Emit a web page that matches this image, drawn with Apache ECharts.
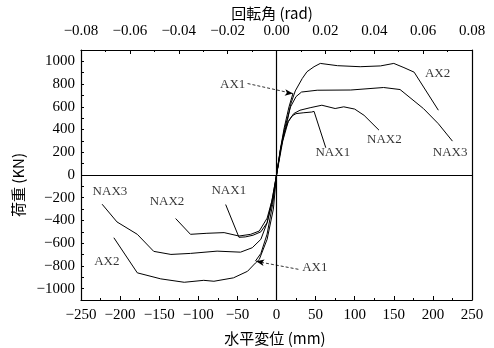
<!DOCTYPE html>
<html><head><meta charset="utf-8">
<script src="https://cdn.jsdelivr.net/npm/echarts@6/dist/echarts.min.js"></script>
<style>html,body{margin:0;padding:0;background:#fff}#c{width:494px;height:348px}</style>
</head><body><div id="c"></div>
<script>
// displacement (mm), load (kN)
const AX1 = [[-27,-758],[-20,-690],[-12,-520],[-5,-260],[0,0],[5,230],[10,420],[16,600],[21,717]];
const AX2 = [[-208,-552],[-178,-861],[-148,-914],[-118,-944],[-93,-927],[-80,-935],[-55,-905],[-37,-847],[-27,-775],[-22,-743],[-12,-566],[-4,-300],[0,0],
             [6,250],[14,480],[18,620],[24,740],[33,850],[39,909],[48,953],[56,982],[78,962],[107,953],[133,960],[150,982],[163,945],[176,905],[207,570]];
const NAX1 = [[-65,-260],[-48,-548],[-40,-545],[-30,-530],[-20,-500],[-12,-420],[-5,-230],[0,0],
              [5,220],[10,380],[15,470],[20,520],[25,540],[35,548],[45,554],[48,560],[63,240]];
const NAX2 = [[-129,-383],[-110,-522],[-89,-513],[-67,-507],[-48,-537],[-33,-522],[-22,-493],[-12,-380],[-6,-230],[0,0],
              [8,300],[15,470],[22,540],[30,570],[43,592],[58,614],[75,585],[86,600],[100,580],[112,525],[131,395]];
const NAX3 = [[-223,-257],[-204,-413],[-178,-522],[-157,-672],[-135,-699],[-110,-690],[-76,-670],[-46,-679],[-31,-640],[-20,-566],[-12,-420],[-5,-200],[0,0],
              [5,220],[10,400],[18,600],[25,690],[32,730],[52,746],[95,748],[137,770],[158,752],[188,584],[207,451],[225,298]];
// leader lines for AX1 (start point, arrow point)
const leaderTop = [[-37,805],[21,717]];
const leaderBottom = [[28,-830],[-26,-760]];
// curve labels
const labelTexts = ['AX1','AX2','NAX1','NAX2','NAX3','NAX3','NAX2','NAX1','AX2','AX1'];
const labelX = [-56, 206, 72, 138, 222, -213, -140, -61, -217, 49];
const labelY = [796, 894, 195, 310, 195, -146, -235, -139, -765, -814];
// axis ticks
const xTicks = {min:-250, max:250, step:50};
const topTicks = {min:-0.08, max:0.08, step:0.02};
const yTicks = {min:-1100, max:1100, step:100, labelStep:200};

const minus = s => String(s).replace('-', '\u2212');
const tickFont = {fontFamily:'Liberation Serif', fontSize:15, color:'#000'};
const lineSeries = (name, data) => ({
  name, type:'line', data, symbol:'none', smooth:false, animation:false,
  lineStyle:{color:'#000', width:1}, z:3
});
const leader = (data, rot) => ({
  type:'line', symbol:'none', animation:false,
  data:[data[0], {value:data[1], symbol:'arrow', symbolSize:[5,8], symbolRotate:rot}],
  lineStyle:{color:'#000', width:0.8, type:[3,2]}, itemStyle:{color:'#000'}, z:4
});

const chart = echarts.init(document.getElementById('c'));
chart.setOption({
  animation:false,
  grid:{left:81, right:22, top:50, bottom:48, show:false},
  xAxis:[
    {type:'value', position:'bottom', min:xTicks.min, max:xTicks.max, interval:xTicks.step,
     axisLine:{onZero:false, lineStyle:{color:'#000', width:1.2}},
     axisTick:{inside:true, length:4, lineStyle:{color:'#000'}},
     minorTick:{show:true, splitNumber:2, length:2, lineStyle:{color:'#000'}},
     splitLine:{show:false},
     axisLabel:Object.assign({margin:8, formatter:v=>minus(v)}, tickFont)},
    {type:'value', position:'top', min:topTicks.min, max:topTicks.max, interval:topTicks.step,
     axisLine:{onZero:false, lineStyle:{color:'#000', width:1.2}},
     axisTick:{inside:true, length:4, lineStyle:{color:'#000'}},
     minorTick:{show:true, splitNumber:2, length:2, lineStyle:{color:'#000'}},
     splitLine:{show:false},
     axisLabel:Object.assign({margin:11, formatter:v=>minus(v.toFixed(2))}, tickFont)}
  ],
  yAxis:[
    {type:'value', position:'left', min:yTicks.min, max:yTicks.max, interval:yTicks.step,
     axisLine:{show:true, onZero:false, lineStyle:{color:'#000', width:1.2}},
     axisTick:{show:true, inside:true, length:3, lineStyle:{color:'#000'}},
     splitLine:{show:false},
     axisLabel:Object.assign({margin:6, formatter:v=> (Math.round(v)%yTicks.labelStep===0 ? minus(Math.round(v)) : '')}, tickFont)},
    {type:'value', position:'right', min:yTicks.min, max:yTicks.max, interval:yTicks.step,
     axisLine:{show:true, onZero:false, lineStyle:{color:'#000', width:1.2}},
     axisTick:{show:false}, axisLabel:{show:false}, splitLine:{show:false}}
  ],
  series:[
    Object.assign(lineSeries('AX1', AX1), {
      markLine:{silent:true, symbol:'none', label:{show:false}, animation:false,
        lineStyle:{color:'#000', type:'solid', width:1.2},
        data:[{xAxis:0},{yAxis:0}]}
    }),
    lineSeries('AX2', AX2),
    lineSeries('NAX1', NAX1),
    lineSeries('NAX2', NAX2),
    lineSeries('NAX3', NAX3),
    leader(leaderTop, -97),
    leader(leaderBottom, 80),
    {type:'scatter', symbolSize:1, itemStyle:{color:'rgba(0,0,0,0)'}, animation:false, z:5,
     data:labelTexts.map((t,i)=>({name:t, value:[labelX[i], labelY[i]]})),
     label:{show:true, position:'inside', formatter:p=>p.name,
       fontFamily:'Liberation Serif', fontSize:13, color:'#000'}}
  ],
  graphic:[
    {type:'text', x:272, y:13, style:{text:'回転角 (rad)', fontFamily:'Noto Sans CJK JP', fontSize:15, fill:'#000', textAlign:'center', textVerticalAlign:'middle'}},
    {type:'text', x:275, y:338, style:{text:'水平変位 (mm)', fontFamily:'Noto Sans CJK JP', fontSize:15, fill:'#000', textAlign:'center', textVerticalAlign:'middle'}},
    {type:'text', x:18, y:185, rotation:Math.PI/2, style:{text:'荷重 (KN)', fontFamily:'Noto Sans CJK JP', fontSize:15, fill:'#000', textAlign:'center', textVerticalAlign:'middle'}}
  ]
});
</script>
</body></html>
